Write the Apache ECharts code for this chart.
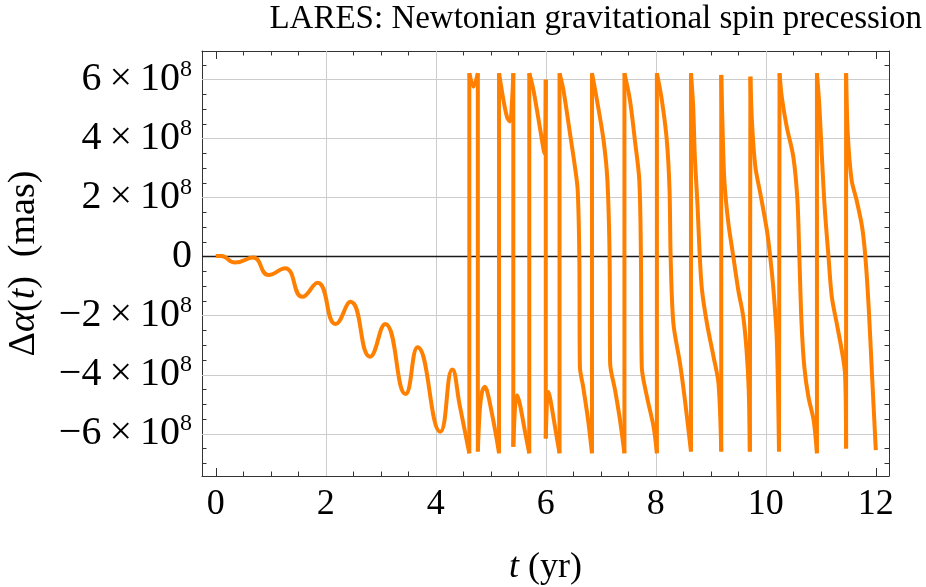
<!DOCTYPE html>
<html>
<head>
<meta charset="utf-8">
<script src="https://cdn.jsdelivr.net/npm/echarts@6/dist/echarts.min.js"></script>
<style>
  html, body { margin: 0; padding: 0; background: #fff; }
  #chart { width: 926px; height: 587px; }
</style>
</head>
<body>
<div id="chart"></div>
<script>
// values; alpha in units of 1e8 mas
const driftT = [0, 0.1, 0.35, 0.68, 0.96, 1.26, 1.575, 1.85, 2.18, 2.45, 2.805,
  3.08, 3.45, 3.67, 4.08, 4.30, 4.44, 4.61]
const driftA = [0.02, 0.02, -0.2, -0.03, -0.62, -0.39, -1.36, -0.88, -2.28, -1.53, -3.39,
  -2.28, -4.65, -3.07, -5.93, -3.82, -5.08, -6.66]

// after ~4.6 yr the angle wraps round, so the curve jumps top <-> bottom
const wrapT = [4.61, 4.61, 4.685, 4.765, 4.765, 4.80, 4.845, 4.89, 4.94, 5.02, 5.10, 5.15,
  5.15, 5.23, 5.30, 5.35, 5.39, 5.41, 5.41, 5.445, 5.48, 5.53, 5.62, 5.70,
  5.70, 5.775, 5.90, 5.975, 6.0, 6.0, 6.025, 6.05, 6.09, 6.18, 6.25,
  6.25, 6.32, 6.44, 6.53, 6.58, 6.61, 6.62, 6.68, 6.77, 6.84,
  6.84, 6.93, 7.05, 7.12, 7.16, 7.17, 7.26, 7.35, 7.43,
  7.43, 7.53, 7.62, 7.70, 7.73, 7.745, 7.84, 7.96, 8.02,
  8.02, 8.11, 8.20, 8.25, 8.27, 8.32, 8.44, 8.53, 8.64,
  8.64, 8.68, 8.71, 8.76, 8.80, 8.84, 8.93, 9.05, 9.14, 9.19,
  9.19, 9.22, 9.25, 9.32, 9.41, 9.50, 9.59, 9.65, 9.69, 9.71,
  9.72, 9.75, 9.81, 9.90, 10.02, 10.08, 10.14, 10.20, 10.24,
  10.25, 10.29, 10.38, 10.50, 10.575, 10.61, 10.65, 10.70, 10.775, 10.87, 10.93,
  10.93, 10.975, 11.02, 11.07, 11.14, 11.20, 11.29, 11.38, 11.44, 11.46,
  11.46, 11.49, 11.56, 11.65, 11.75, 11.81, 11.87, 11.93, 12.0]
const wrapA = [-6.66, 6.22, 5.76, 6.22, -6.6, -5.2, -4.55, -4.41, -4.6, -5.3, -6.1, -6.66,
  6.22, 5.31, 4.7, 4.58, 5.4, 6.22, -6.44, -5.0, -4.69, -5.0, -5.9, -6.66,
  6.22, 5.65, 4.3, 3.5, 6.0, -6.16, -4.8, -4.58, -4.9, -5.9, -6.66,
  6.22, 5.65, 4.18, 3.05, 2.26, 0, -3.73, -4.41, -5.54, -6.66,
  6.22, 5.31, 3.95, 2.6, 0, -3.61, -4.52, -5.54, -6.66,
  6.22, 5.31, 3.95, 2.6, 0, -3.73, -4.75, -5.76, -6.66,
  6.22, 5.31, 3.95, 2.26, 0, -2.26, -3.61, -4.86, -6.6,
  6.22, 5.08, 3.39, 1.69, 0, -1.13, -2.26, -3.39, -4.29, -6.6,
  6.16, 3.95, 2.49, 1.13, 0, -1.13, -2.03, -3.16, -4.52, -6.6,
  6.1, 4.52, 3.05, 2.15, 0.9, 0, -1.13, -2.82, -6.6,
  6.22, 5.42, 4.41, 3.39, 1.92, 0, -2.26, -3.73, -4.75, -5.54, -6.66,
  6.22, 5.08, 3.39, 1.69, 0, -1.36, -2.26, -3.16, -3.95, -6.5,
  6.22, 4.18, 2.6, 1.92, 1.02, 0, -1.69, -3.95, -6.55]

const xMajor = [0, 2, 4, 6, 8, 10, 12]
const xMinor = [0.5, 1, 1.5, 2.5, 3, 3.5, 4.5, 5, 5.5, 6.5, 7, 7.5, 8.5, 9, 9.5, 10.5, 11, 11.5]
const yMajor = [-6, -4, -2, 0, 2, 4, 6]
const yMinor = [-7, -6.5, -5.5, -5, -4.5, -3.5, -3, -2.5, -1.5, -1, -0.5,
  0.5, 1, 1.5, 2.5, 3, 3.5, 4.5, 5, 5.5, 6.5]
const gridT = [2, 4, 6, 8, 10]
const gridA = [-6, -4, -2, 2, 4, 6]

const E8 = 1e8
const font = 'Liberation Serif'
const frameColor = '#333'
const orange = '#FF8000'

const toPts = (ts, as) => ts.map((t, i) => [t, as[i] * E8])

// split the wrapped curve: the smooth pieces between the wraps, and the wrap jumps themselves
const wrapPts = toPts(wrapT, wrapA)
const pieces = []
const jumps = []
wrapPts.forEach((p, i) => {
  const next = wrapPts[i + 1]
  pieces.push(p)
  if (next && Math.abs(next[1] - p[1]) > 8 * E8) {
    pieces.push(null)
    jumps.push(p, next, null)
  }
})

function yLabel(v) {
  if (v === 0) return '{b|0}'
  const n = v / E8
  return '{b|' + (n < 0 ? '\u2212' : '') + Math.abs(n) + '\u2009\u00d7\u200910}{s|8}'
}

function xAxisOf(pos, ticks, len, withLine, withLabel) {
  return {
    type: 'value', position: pos, min: -0.25, max: 12.24,
    axisLine: { show: withLine, onZero: false, lineStyle: { color: frameColor, width: 1 } },
    axisTick: { show: true, inside: true, length: len, customValues: ticks, lineStyle: { color: frameColor, width: 1 } },
    axisLabel: withLabel
      ? { show: true, customValues: ticks, margin: 11, fontSize: 36, lineHeight: 36, fontFamily: font, color: '#000' }
      : { show: false },
    splitLine: { show: false }
  }
}

function yAxisOf(pos, ticks, len, withLine, withLabel) {
  return {
    type: 'value', position: pos, min: -7.43 * E8, max: 6.97 * E8,
    axisLine: { show: withLine, onZero: false, lineStyle: { color: frameColor, width: 1 } },
    axisTick: { show: true, inside: true, length: len, customValues: ticks.map(v => v * E8), lineStyle: { color: frameColor, width: 1 } },
    axisLabel: withLabel
      ? {
          show: true, customValues: ticks.map(v => v * E8), margin: 10, formatter: yLabel,
          rich: {
            b: { fontSize: 40, lineHeight: 44, fontFamily: font, color: '#000' },
            s: { fontSize: 24, lineHeight: 16, verticalAlign: 'top', fontFamily: font, color: '#000' }
          }
        }
      : { show: false },
    splitLine: { show: false }
  }
}

const gridStyle = { color: '#cccccc', width: 1, type: 'solid' }
const guideLines = gridT.map(t => ({ xAxis: t, lineStyle: gridStyle }))
  .concat(gridA.map(a => ({ yAxis: a * E8, lineStyle: gridStyle })))
  .concat([{ yAxis: 0, lineStyle: { color: '#1a1a1a', width: 1.3, type: 'solid' } }])

const xs = [
  xAxisOf('bottom', xMajor, 8, true, true),
  xAxisOf('bottom', xMinor, 4.5, false, false),
  xAxisOf('top', xMajor, 8, true, false),
  xAxisOf('top', xMinor, 4.5, false, false)
]
xs[0].name = '{i|t} (yr)'
xs[0].nameLocation = 'middle'
xs[0].nameGap = 74
xs[0].nameTextStyle = {
  fontSize: 36, fontFamily: font, color: '#000',
  rich: { i: { fontSize: 36, fontFamily: font, fontStyle: 'italic', color: '#000' } }
}

const ys = [
  yAxisOf('left', yMajor, 8, true, true),
  yAxisOf('left', yMinor, 4.5, false, false),
  yAxisOf('right', yMajor, 8, true, false),
  yAxisOf('right', yMinor, 4.5, false, false)
]
ys[0].name = '\u0394{i|\u03b1}({i|t})  (mas)'
ys[0].nameLocation = 'middle'
ys[0].nameRotate = 90
ys[0].nameGap = 159
ys[0].nameTextStyle = {
  fontSize: 38, fontFamily: font, color: '#000',
  rich: { i: { fontSize: 38, fontFamily: font, fontStyle: 'italic', color: '#000' } }
}

const curveStyle = { color: orange, width: 4, join: 'round' }

const chart = echarts.init(document.getElementById('chart'), null, { renderer: 'canvas' })
chart.setOption({
  animation: false,
  backgroundColor: '#fff',
  title: {
    text: 'LARES: Newtonian gravitational spin precession',
    right: 4, top: 3, padding: 0,
    textStyle: { fontSize: 33, fontWeight: 'normal', fontFamily: font, color: '#000' }
  },
  grid: { left: 202, right: 37, top: 51, bottom: 111, containLabel: false, outerBoundsMode: 'none' },
  xAxis: xs,
  yAxis: ys,
  series: [
    {
      type: 'line', data: [], z: 1, silent: true,
      markLine: {
        silent: true, z: 1, animation: false,
        symbol: ['none', 'none'],
        label: { show: false },
        emphasis: { disabled: true },
        data: guideLines
      }
    },
    {
      type: 'line', data: toPts(driftT, driftA), smooth: 0.5,
      symbol: 'none', z: 3, silent: true, lineStyle: curveStyle
    },
    {
      type: 'line', data: pieces, smooth: 0.3, connectNulls: false,
      symbol: 'none', z: 3, silent: true, lineStyle: curveStyle
    },
    {
      type: 'line', data: jumps, smooth: false, connectNulls: false,
      symbol: 'none', z: 3, silent: true, lineStyle: curveStyle
    }
  ]
})
</script>
</body>
</html>
